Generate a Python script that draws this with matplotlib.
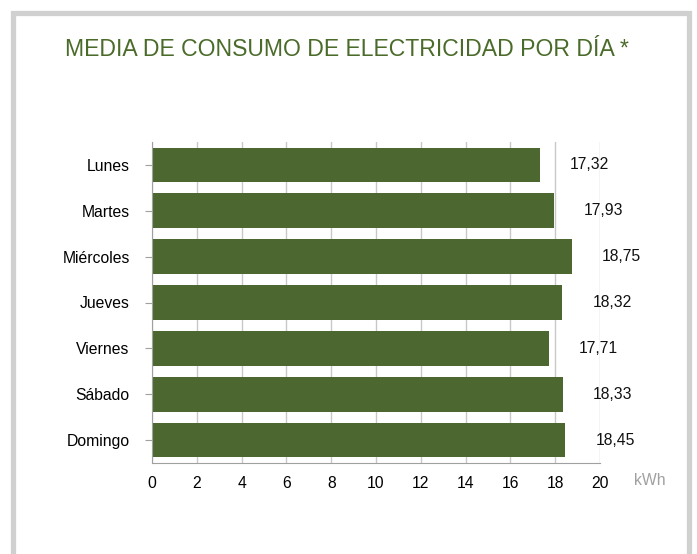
import matplotlib
matplotlib.use("Agg")
import matplotlib.pyplot as plt
from matplotlib.patches import Rectangle

dias = ["Lunes", "Martes", "Miércoles", "Jueves", "Viernes", "Sábado", "Domingo"]
consumo = [17.32, 17.93, 18.75, 18.32, 17.71, 18.33, 18.45]
etiquetas = ["17,32", "17,93", "18,75", "18,32", "17,71", "18,33", "18,45"]
xticks = [0, 2, 4, 6, 8, 10, 12, 14, 16, 18, 20]

plt.rcParams['font.family'] = ['Liberation Sans', 'DejaVu Sans']

W, H = 697, 554
fig = plt.figure(figsize=(W / 100, H / 100), dpi=100)

# marco gris
fig.patches.append(Rectangle((13.5 / W, -0.1), 675 / W, 1.1 - 13.5 / H,
                             transform=fig.transFigure, fill=False,
                             edgecolor='#d0d0d0', linewidth=3.8))

fig.text(347 / W, 1 - 50 / H, "MEDIA DE CONSUMO DE ELECTRICIDAD POR DÍA *",
         ha='center', va='center', fontsize=16.6, color='#4a6b2a')

ax = fig.add_axes([152 / W, 1 - 463 / H, 448 / W, 321 / H])
ypos = list(range(len(dias)))
ax.barh(ypos, consumo, height=0.76, color='#4c6830', zorder=2)
for y, v, t in zip(ypos, consumo, etiquetas):
    ax.text(v + 1.35, y, t, ha='left', va='center', fontsize=11.3, color='#111111', zorder=3)

ax.set_xlim(0, 20)
ax.set_ylim(len(dias) - 0.5, -0.5)
ax.set_yticks(ypos)
ax.set_yticklabels(dias, fontsize=11.3)
ax.set_xticks(xticks)
ax.set_xticklabels([str(x) for x in xticks], fontsize=11.3)
ax.grid(axis='x', color='#c8c8c8', linewidth=1, zorder=0)
ax.set_axisbelow(True)
for s in ['top', 'right']:
    ax.spines[s].set_visible(False)
for s in ['left', 'bottom']:
    ax.spines[s].set_color('#a0a0a0')
ax.tick_params(axis='y', length=5, color='#a0a0a0', pad=11)
ax.tick_params(axis='x', length=0, pad=9)
ax.text(1.075, -0.055, "kWh", transform=ax.transAxes, ha='left', va='center',
        fontsize=11.3, color='#a0a0a0')

fig.savefig("out.png", dpi=100)
